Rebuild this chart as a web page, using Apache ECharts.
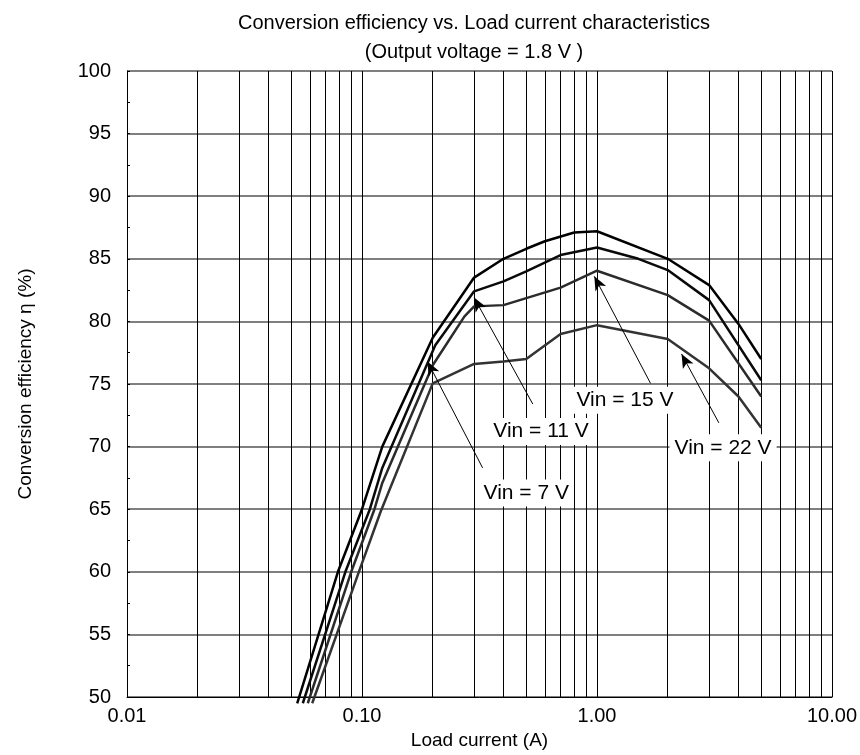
<!DOCTYPE html>
<html>
<head>
<meta charset="utf-8">
<script src="https://cdn.jsdelivr.net/npm/echarts@6/dist/echarts.min.js"></script>
<style>
html,body{margin:0;padding:0;background:#fff;}
#chart{width:860px;height:755px;}
</style>
</head>
<body>
<div id="chart"></div>
<script>
// ---- data ----
const current7 = [0.053, 0.079, 0.1, 0.122, 0.2, 0.3, 0.4, 0.5, 0.6, 0.8, 1.0, 2, 3, 4, 5];
const eff7     = [49.5, 60, 65, 70, 78.7, 83.5, 85.0, 85.8, 86.4, 87.1, 87.2, 85.0, 82.9, 79.8, 77.0];
const current11 = [0.056, 0.085, 0.108, 0.122, 0.205, 0.3, 0.4, 0.5, 0.7, 1.0, 1.5, 2, 3, 5];
const eff11     = [49.5, 60, 65, 68.3, 78.1, 82.4, 83.2, 84.0, 85.3, 85.9, 85.0, 84.1, 81.7, 75.3];
const current15 = [0.0588, 0.09, 0.113, 0.122, 0.2, 0.273, 0.3, 0.4, 0.7, 1.0, 2, 3, 5];
const eff15     = [49.5, 60, 65, 67.1, 76.5, 80.4, 81.2, 81.3, 82.7, 84.05, 82.1, 80.06, 74.0];
const current22 = [0.0614, 0.097, 0.12, 0.2, 0.3, 0.4, 0.5, 0.7, 1.0, 2, 3, 4, 5];
const eff22     = [49.5, 60, 64.8, 75.05, 76.6, 76.8, 77.0, 79.0, 79.7, 78.6, 76.25, 74.0, 71.5];

const seriesNames = ['Vin = 7 V', 'Vin = 11 V', 'Vin = 15 V', 'Vin = 22 V'];
const labelAt  = [[0.5, 66.3], [0.578, 71.2], [1.315, 73.7], [3.44, 69.9]];
const arrowFrom = [[0.326, 68.3], [0.533, 73.4], [1.69, 75.05], [3.30, 71.9]];
const arrowTo   = [[0.19, 76.8], [0.3, 81.9], [0.974, 83.6], [2.29, 77.4]];

const xTicks = [0.01, 0.1, 1, 10];
const xMinorGrid = [0.02,0.03,0.04,0.05,0.06,0.07,0.08,0.09,
                    0.2,0.3,0.4,0.5,0.6,0.7,0.8,0.9,
                    2,3,4,5,6,7,8,9];
const yMin = 50, yMax = 100, yStep = 5;

// ---- chart ----
const FONT = 'Liberation Sans, Arial, sans-serif';
const chart = echarts.init(document.getElementById('chart'));
const pairs = (xs, ys) => xs.map((x, i) => [x, ys[i]]);
const curves = [pairs(current7, eff7), pairs(current11, eff11), pairs(current15, eff15), pairs(current22, eff22)];
const curveColors = ['#000000', '#0a0a0a', '#2b2b2b', '#333333'];

const series = [];
series.push({
  type: 'line', name: 'grid', data: [], silent: true, z: 1,
  markLine: {
    silent: true, symbol: ['none', 'none'], z: 1, animation: false,
    label: {show: false},
    lineStyle: {color: '#000', width: 1, type: 'solid'},
    data: xMinorGrid.map(v => ({xAxis: v}))
  }
});
curves.forEach((d, i) => {
  series.push({
    type: 'line', name: seriesNames[i], data: d, z: 3,
    showSymbol: false, symbol: 'none', clip: false, animation: false,
    lineStyle: {color: curveColors[i], width: 2.5},
    markLine: {
      silent: true, z: 10, animation: false,
      symbol: ['none', 'arrow'], symbolSize: [9, 14],
      label: {show: false},
      lineStyle: {color: '#000', width: 1, type: 'solid'},
      data: [[{coord: arrowFrom[i]}, {coord: arrowTo[i]}]]
    },
    markPoint: {
      silent: true, z: 11, animation: false,
      symbol: 'rect', symbolSize: 1, itemStyle: {color: 'rgba(0,0,0,0)'},
      data: [{
        coord: labelAt[i],
        label: {
          show: true, position: 'inside', formatter: seriesNames[i],
          color: '#000', fontSize: 21, fontFamily: FONT,
          backgroundColor: '#fff', padding: [3, 5]
        }
      }]
    }
  });
});

chart.setOption({
  backgroundColor: '#fff',
  animation: false,
  title: [{
    text: 'Conversion efficiency vs. Load current characteristics\n(Output voltage = 1.8 V )',
    left: 469, top: 4, textAlign: 'center',
    textStyle: {fontSize: 20, fontWeight: 'normal', color: '#000', fontFamily: FONT, lineHeight: 29}
  }],
  grid: {left: 127, right: 28, top: 71, bottom: 58, containLabel: false},
  xAxis: {
    type: 'log', logBase: 10, min: xTicks[0], max: xTicks[xTicks.length - 1],
    name: 'Load current (A)', nameLocation: 'middle', nameGap: 34,
    nameTextStyle: {fontSize: 19, color: '#000', fontFamily: FONT},
    axisLine: {show: true, lineStyle: {color: '#000', width: 1}},
    axisTick: {show: false},
    axisLabel: {color: '#000', fontSize: 20, fontFamily: FONT, margin: 9,
      formatter: v => Number(v).toFixed(2)},
    splitLine: {show: true, lineStyle: {color: '#000', width: 1}},
    minorTick: {show: false}, minorSplitLine: {show: false}
  },
  yAxis: {
    type: 'value', min: yMin, max: yMax, interval: yStep,
    name: 'Conversion efficiency η (%)', nameLocation: 'middle', nameGap: 92,
    nameTextStyle: {fontSize: 19, color: '#000', fontFamily: FONT},
    axisLine: {show: true, lineStyle: {color: '#000', width: 1}},
    axisTick: {show: true, inside: true, length: 3, lineStyle: {color: '#000'}},
    minorTick: {show: true, splitNumber: 2, length: 3, lineStyle: {color: '#000'}},
    axisLabel: {color: '#000', fontSize: 20, fontFamily: FONT, margin: 16},
    splitLine: {show: true, lineStyle: {color: '#555', width: 1.5}}
  },
  series: series
});
</script>
</body>
</html>
